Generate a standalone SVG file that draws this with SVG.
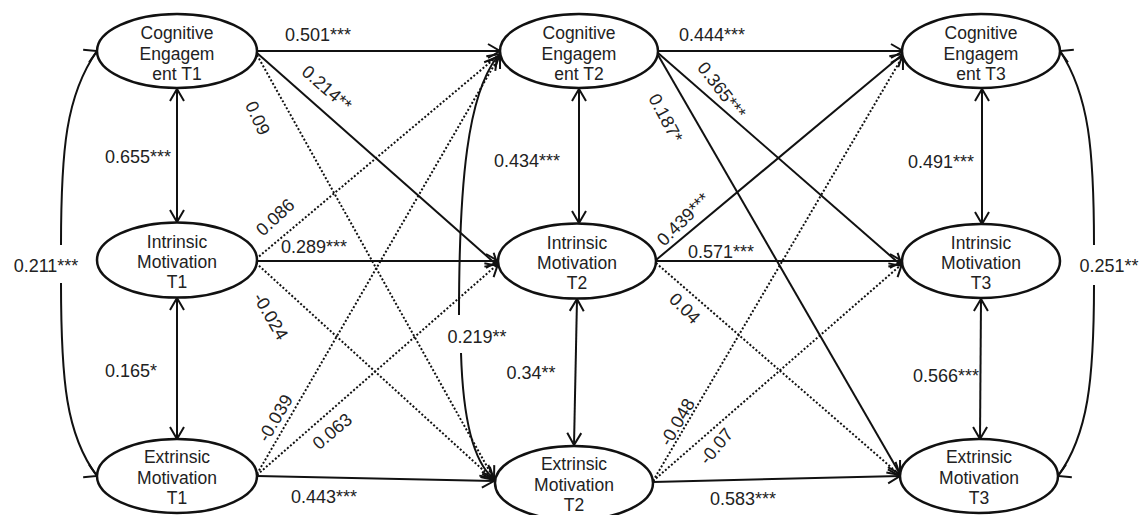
<svg xmlns="http://www.w3.org/2000/svg" width="1144" height="515" viewBox="0 0 1144 515">
<style>
.n{fill:#fff;stroke:#111;stroke-width:2.5}
.nt{font-family:"Liberation Sans",Arial,sans-serif;font-size:17.5px;fill:#222;text-anchor:middle}
.s{fill:none;stroke:#111;stroke-width:2;marker-end:url(#arr)}
.d{fill:none;stroke:#111;stroke-width:2;stroke-dasharray:2 2;marker-end:url(#arr)}
.b{fill:none;stroke:#111;stroke-width:2;marker-start:url(#arr);marker-end:url(#arr)}
.c{fill:none;stroke:#111;stroke-width:2}
.l{font-family:"Liberation Sans",Arial,sans-serif;font-size:18px;fill:#222;text-anchor:middle}
</style>
<defs>
<marker id="arr" viewBox="-14 -9 16 18" refX="0" refY="0" markerWidth="16" markerHeight="18" markerUnits="userSpaceOnUse" orient="auto-start-reverse">
<path d="M-12,-7 L0,0 L-12,7" fill="none" stroke="#111" stroke-width="2"/>
</marker>
<marker id="aTL" viewBox="-14 -9 16 18" refX="0" refY="0" markerWidth="16" markerHeight="18" markerUnits="userSpaceOnUse" orient="-25">
<path d="M-12,-7 L0,0 L-12,7" fill="none" stroke="#111" stroke-width="2"/>
</marker>
<marker id="aBL" viewBox="-14 -9 16 18" refX="0" refY="0" markerWidth="16" markerHeight="18" markerUnits="userSpaceOnUse" orient="25">
<path d="M-12,-7 L0,0 L-12,7" fill="none" stroke="#111" stroke-width="2"/>
</marker>
<marker id="aTR" viewBox="-14 -9 16 18" refX="0" refY="0" markerWidth="16" markerHeight="18" markerUnits="userSpaceOnUse" orient="205">
<path d="M-12,-7 L0,0 L-12,7" fill="none" stroke="#111" stroke-width="2"/>
</marker>
<marker id="aBR" viewBox="-14 -9 16 18" refX="0" refY="0" markerWidth="16" markerHeight="18" markerUnits="userSpaceOnUse" orient="155">
<path d="M-12,-7 L0,0 L-12,7" fill="none" stroke="#111" stroke-width="2"/>
</marker>
</defs>
<rect width="1144" height="515" fill="#fff"/>
<g id="connectors">
<!-- T1 to T2 -->
<line class="s" x1="257" y1="51" x2="500" y2="51"/>
<line class="s" x1="257" y1="53" x2="498" y2="266"/>
<line class="d" x1="257" y1="55" x2="494" y2="479"/>
<line class="d" x1="256" y1="259" x2="500" y2="54"/>
<line class="s" x1="256" y1="261" x2="498" y2="261"/>
<line class="d" x1="256" y1="263" x2="494" y2="480"/>
<line class="d" x1="257" y1="474" x2="500" y2="55"/>
<line class="d" x1="257" y1="475" x2="498" y2="264"/>
<line class="s" x1="257" y1="476" x2="494" y2="481"/>
<!-- T2 to T3 -->
<line class="s" x1="658" y1="51" x2="903" y2="51"/>
<line class="s" x1="658" y1="53" x2="902" y2="266"/>
<line class="s" x1="658" y1="55" x2="900" y2="474"/>
<line class="s" x1="656" y1="260" x2="903" y2="54"/>
<line class="s" x1="656" y1="261" x2="902" y2="261"/>
<line class="d" x1="656" y1="263" x2="900" y2="475"/>
<line class="d" x1="653" y1="481" x2="903" y2="56"/>
<line class="d" x1="653" y1="481" x2="902" y2="264"/>
<line class="s" x1="653" y1="482" x2="900" y2="476"/>
<!-- vertical covariances -->
<line class="b" x1="177" y1="89" x2="177" y2="222"/>
<line class="b" x1="177" y1="298" x2="177" y2="439"/>
<line class="b" x1="579" y1="89" x2="579" y2="223"/>
<line class="b" x1="577" y1="299" x2="574" y2="445"/>
<line class="b" x1="982" y1="89" x2="982" y2="224"/>
<line class="b" x1="981" y1="299" x2="980" y2="439"/>
<!-- curved covariances -->
<path class="c" marker-end="url(#aTL)" d="M61,245 C61,150 66,95 97,51"/>
<path class="c" marker-end="url(#aBL)" d="M61,283 C61,380 66,435 97,476"/>
<path class="c" marker-end="url(#aTR)" d="M1094,245 C1094,150 1089,95 1060,51"/>
<path class="c" marker-end="url(#aBR)" d="M1094,285 C1094,380 1088,435 1058,476"/>
<path class="c" marker-end="url(#arr)" d="M459,315 C459,180 468,95 497,57"/>
<path class="c" marker-end="url(#arr)" d="M461,353 C463,420 474,462 493,478"/>
<!-- labels -->
<text class="l" x="318" y="41">0.501***</text>
<text class="l" x="712" y="41">0.444***</text>
<text class="l" x="138" y="163">0.655***</text>
<text class="l" x="527" y="167">0.434***</text>
<text class="l" x="941" y="168">0.491***</text>
<text class="l" x="46" y="272">0.211***</text>
<text class="l" x="314" y="253">0.289***</text>
<text class="l" x="721" y="258">0.571***</text>
<text class="l" x="1109" y="272">0.251**</text>
<text class="l" x="477" y="343">0.219**</text>
<text class="l" x="131" y="377">0.165*</text>
<text class="l" x="531" y="379">0.34**</text>
<text class="l" x="946" y="382">0.566***</text>
<text class="l" x="324" y="503">0.443***</text>
<text class="l" x="743" y="505">0.583***</text>
<text class="l" transform="translate(327,88) rotate(41)" y="6.5">0.214**</text>
<text class="l" transform="translate(258,118) rotate(65)" y="6.5">0.09</text>
<text class="l" transform="translate(275,217) rotate(-43)" y="6.5">0.086</text>
<text class="l" transform="translate(271,316) rotate(60)" y="6.5">-0.024</text>
<text class="l" transform="translate(275,418) rotate(-60)" y="6.5">-0.039</text>
<text class="l" transform="translate(332,431) rotate(-40)" y="6.5">0.063</text>
<text class="l" transform="translate(722,90) rotate(52)" y="6.5">0.365***</text>
<text class="l" transform="translate(666,118) rotate(62)" y="6.5">0.187*</text>
<text class="l" transform="translate(683,219) rotate(-45)" y="6.5">0.439***</text>
<text class="l" transform="translate(685,308) rotate(45)" y="6.5">0.04</text>
<text class="l" transform="translate(677,422) rotate(-60)" y="6.5">-0.048</text>
<text class="l" transform="translate(716,446) rotate(-50)" y="6.5">-0.07</text>
</g>
<g id="ce1"><ellipse class="n" cx="177" cy="51" rx="80" ry="37"/><text class="nt" x="177" y="39">Cognitive</text><text class="nt" x="177" y="60">Engagem</text><text class="nt" x="177" y="80">ent T1</text></g>
<g id="im1"><ellipse class="n" cx="177" cy="260" rx="80" ry="37.5"/><text class="nt" x="177" y="248">Intrinsic</text><text class="nt" x="177" y="268">Motivation</text><text class="nt" x="177" y="288">T1</text></g>
<g id="em1"><ellipse class="n" cx="177" cy="476" rx="80" ry="37"/><text class="nt" x="177" y="463">Extrinsic</text><text class="nt" x="177" y="484">Motivation</text><text class="nt" x="177" y="504">T1</text></g>
<g id="ce2"><ellipse class="n" cx="579" cy="51" rx="79" ry="37"/><text class="nt" x="579" y="39">Cognitive</text><text class="nt" x="579" y="60">Engagem</text><text class="nt" x="579" y="80">ent T2</text></g>
<g id="im2"><ellipse class="n" cx="577" cy="261" rx="79" ry="37.5"/><text class="nt" x="577" y="249">Intrinsic</text><text class="nt" x="577" y="269">Motivation</text><text class="nt" x="577" y="289">T2</text></g>
<g id="em2"><ellipse class="n" cx="574" cy="483" rx="79" ry="37"/><text class="nt" x="574" y="470">Extrinsic</text><text class="nt" x="574" y="491">Motivation</text><text class="nt" x="574" y="511">T2</text></g>
<g id="ce3"><ellipse class="n" cx="981" cy="51" rx="79" ry="37"/><text class="nt" x="981" y="39">Cognitive</text><text class="nt" x="981" y="60">Engagem</text><text class="nt" x="981" y="80">ent T3</text></g>
<g id="im3"><ellipse class="n" cx="981" cy="261" rx="79" ry="37"/><text class="nt" x="981" y="249">Intrinsic</text><text class="nt" x="981" y="269">Motivation</text><text class="nt" x="981" y="289">T3</text></g>
<g id="em3"><ellipse class="n" cx="979" cy="476" rx="79" ry="37"/><text class="nt" x="979" y="463">Extrinsic</text><text class="nt" x="979" y="484">Motivation</text><text class="nt" x="979" y="504">T3</text></g>
</svg>
